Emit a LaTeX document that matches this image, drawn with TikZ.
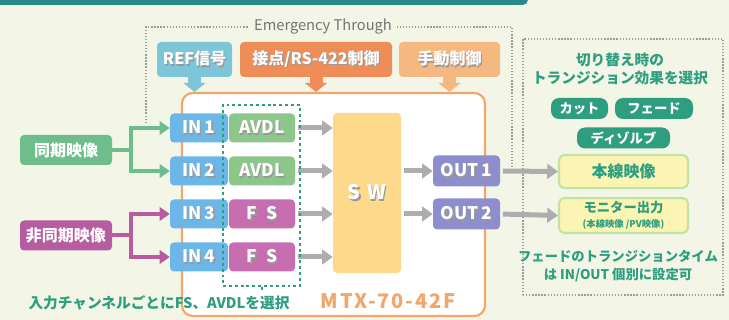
\documentclass[tikz,border=0pt]{standalone}
\usepackage{fontspec}
\setmainfont{Noto Sans CJK JP}
\usetikzlibrary{arrows.meta}

\definecolor{bgcream}{HTML}{F3F6E7}
\definecolor{barteal}{HTML}{2A8A89}
\definecolor{refblue}{HTML}{7DC6D8}
\definecolor{ctrlorange}{HTML}{EE8D58}
\definecolor{manorange}{HTML}{F5B880}
\definecolor{mtxorange}{HTML}{F2A66A}
\definecolor{inblue}{HTML}{6DB6E8}
\definecolor{avdlgreen}{HTML}{8DC68A}
\definecolor{fsmagenta}{HTML}{C66EB0}
\definecolor{swyellow}{HTML}{FDD98B}
\definecolor{outpurple}{HTML}{8E8ECF}
\definecolor{arrowgray}{HTML}{ADADAD}
\definecolor{syncgreen}{HTML}{6DBE8C}
\definecolor{asyncmag}{HTML}{B65CA0}
\definecolor{textteal}{HTML}{2E9E80}
\definecolor{chipteal}{HTML}{2F9E7E}
\definecolor{paleyellow}{HTML}{FCF4B2}
\definecolor{palegreen}{HTML}{C3E2A6}
\definecolor{dotgray}{HTML}{9A9E98}

% white text with a soft drop shadow
\newcommand\shtxt[1]{\makebox[0pt][l]{\raisebox{-0.9pt}{\hspace{0.9pt}\textcolor{black!40}{#1}}}#1}

\tikzset{
  blk/.style={rounded corners=3pt, text=white, inner sep=0pt,
    font=\bfseries\fontsize{13}{15}\selectfont, minimum height=21.75pt},
  inbox/.style={blk, fill=inblue, minimum width=43.5pt},
  procbox/.style={blk, minimum width=49.5pt},
  outbox/.style={blk, fill=outpurple, minimum width=50.25pt, minimum height=23.25pt},
  headbox/.style={blk, minimum height=26.25pt, font=\bfseries\fontsize{12}{14}\selectfont},
  srcbox/.style={blk, minimum width=69pt, minimum height=22.5pt, font=\bfseries\fontsize{12}{14}\selectfont},
  dstbox/.style={draw=palegreen, line width=1.6pt, fill=paleyellow, rounded corners=4pt,
    minimum width=96.75pt, text=textteal, align=center, inner sep=0pt},
  chip/.style={fill=chipteal, text=white, rounded corners=6pt, inner sep=0pt,
    minimum height=15.75pt, font=\bfseries\fontsize{10}{12}\selectfont},
  graylink/.style={draw=arrowgray, line width=3.75pt, shorten <=2pt,
    -{Triangle[width=11pt,length=8pt]}},
  headlink/.style={line width=9.75pt, -{Triangle[width=16.5pt,length=6.75pt]}},
  synclink/.style={draw=syncgreen, line width=3pt},
  asynclink/.style={draw=asyncmag, line width=3pt},
  dotline/.style={draw=dotgray, line width=0.9pt, dash pattern=on 1pt off 1.3pt},
  seldash/.style={draw=textteal, line width=1.5pt, dash pattern=on 2.2pt off 2.2pt},
}

\begin{document}
\begin{tikzpicture}[x=0.75pt,y=0.75pt,yscale=-1,xscale=1]
%background and top band
\fill [bgcream] (0,0) rectangle (729,320);
\useasboundingbox (0,0) rectangle (729,320);
\fill [barteal, rounded corners=4] (-10,-10) rectangle (528,5);

%Emergency Through
\coordinate (etl) at (146,123);
\coordinate (ettr) at (512,27);
\coordinate (etr) at (512,172);
\draw [dotline] (etl) |- (ettr) -- (etr);
\node [fill=bgcream, text=black!55, font=\fontsize{11}{13}\selectfont, inner xsep=4pt] (et) at (323,27) {Emergency Through};

%main unit
\node [draw=mtxorange, line width=1.6pt, fill=white, rounded corners=8pt,
  minimum width=227.25pt, minimum height=167.25pt] (mtx) at (333.5,204.5) {};
\node [text=mtxorange, font=\bfseries\fontsize{15}{17}\selectfont\addfontfeature{LetterSpace=9}] (mtxname) at (388,301) {MTX-70-42F};

%control inputs
\node [headbox, fill=refblue, minimum width=56.25pt] (ref) at (194.5,59.5) {\shtxt{REF信号}};
\node [headbox, fill=ctrlorange, minimum width=114pt] (ctrl) at (316,59.5) {\shtxt{接点/RS-422制御}};
\node [headbox, fill=manorange, minimum width=75.75pt] (man) at (449.5,59.5) {\shtxt{手動制御}};
\draw [headlink, refblue] (ref.south) -- (ref.south |- mtx.north);
\draw [headlink, ctrlorange] (ctrl.south) -- (ctrl.south |- mtx.north);
\draw [headlink, manorange] (man.south) -- (man.south |- mtx.north);

%inputs
\node [inbox] (in1) at (199,128) {\shtxt{IN\,1}};
\node [inbox] (in2) at (199,171) {\shtxt{IN\,2}};
\node [inbox] (in3) at (199,214) {\shtxt{IN\,3}};
\node [inbox] (in4) at (199,257) {\shtxt{IN\,4}};
\node [procbox, fill=avdlgreen] (p1) at (262,128) {\shtxt{AVDL}};
\node [procbox, fill=avdlgreen] (p2) at (262,171) {\shtxt{AVDL}};
\node [procbox, fill=fsmagenta] (p3) at (262,214) {\shtxt{F\enspace S}};
\node [procbox, fill=fsmagenta] (p4) at (262,257) {\shtxt{F\enspace S}};

%switcher
\node [fill=swyellow, rounded corners=3pt, minimum width=51pt, minimum height=120pt,
  text=white, font=\bfseries\fontsize{15}{17}\selectfont] (sw) at (367,193) {\shtxt{S\,\,W}};
\foreach \i in {1,...,4}
  \draw [graylink] (p\i.east) -- (p\i.east -| sw.west);

%outputs
\node [outbox] (out1) at (466.5,171) {\shtxt{OUT\,1}};
\node [outbox] (out2) at (466.5,214) {\shtxt{OUT\,2}};
\draw [graylink] (sw.east |- out1.west) -- (out1.west);
\draw [graylink] (sw.east |- out2.west) -- (out2.west);

%selection frame
\node [seldash, minimum width=57.75pt, minimum height=135.75pt] (sel) at (261.5,195.5) {};
\node [text=textteal, font=\bfseries\fontsize{11}{13}\selectfont] (sellabel) at (159,303) {入力チャンネルごとにFS、AVDLを選択};
\draw [seldash] (sel.south) -- (sel.south |- sellabel.north);

%sources
\node [srcbox, fill=syncgreen] (sync) at (66,150) {同期映像};
\node [srcbox, fill=asyncmag] (async) at (66,235.5) {非同期映像};
\coordinate (syncfork) at (131,150);
\coordinate (asyncfork) at (131,235.5);
\draw [synclink] (sync.east) -- (syncfork);
\draw [synclink, -{Triangle[width=10pt,length=7.5pt]}] (syncfork) |- (in1.west);
\draw [synclink, -{Triangle[width=10pt,length=7.5pt]}] (syncfork) |- (in2.west);
\draw [asynclink] (async.east) -- (asyncfork);
\draw [asynclink, -{Triangle[width=10pt,length=7.5pt]}] (asyncfork) |- (in3.west);
\draw [asynclink, -{Triangle[width=10pt,length=7.5pt]}] (asyncfork) |- (in4.west);

%transition panel
\node [dotline, minimum width=150pt, minimum height=192pt] (panel) at (623,167) {};
\node [text=textteal, align=center, font=\bfseries\fontsize{11}{13.5}\selectfont] (title) at (620,69)
  {切り替え時の\\トランジション効果を選択};
\node [chip, minimum width=42.75pt] (cut) at (579.5,108.5) {カット};
\node [chip, minimum width=58.5pt] (fade) at (654,108.5) {フェード};
\node [chip, minimum width=69.75pt] (dissolve) at (623.5,138) {ディゾルブ};
\node [dstbox, minimum height=24.75pt, font=\bfseries\fontsize{12}{14}\selectfont] (pgm) at (623.5,171.5) {本線映像};
\node [dstbox, minimum height=26.25pt] (mon) at (623.5,215.5)
  {{\bfseries\fontsize{10}{11}\selectfont モニター出力}\\[-1pt]{\bfseries\fontsize{7}{8}\selectfont (本線映像 /PV映像)}};
\node [text=textteal, align=center, font=\bfseries\fontsize{10}{13.5}\selectfont] (note) at (618,266)
  {フェードのトランジションタイム\\は IN/OUT 個別に設定可};
\draw [graylink] (out1.east) -- (pgm.west);
\draw [graylink] (out2.east) -- (mon.west);

\end{tikzpicture}
\end{document}
